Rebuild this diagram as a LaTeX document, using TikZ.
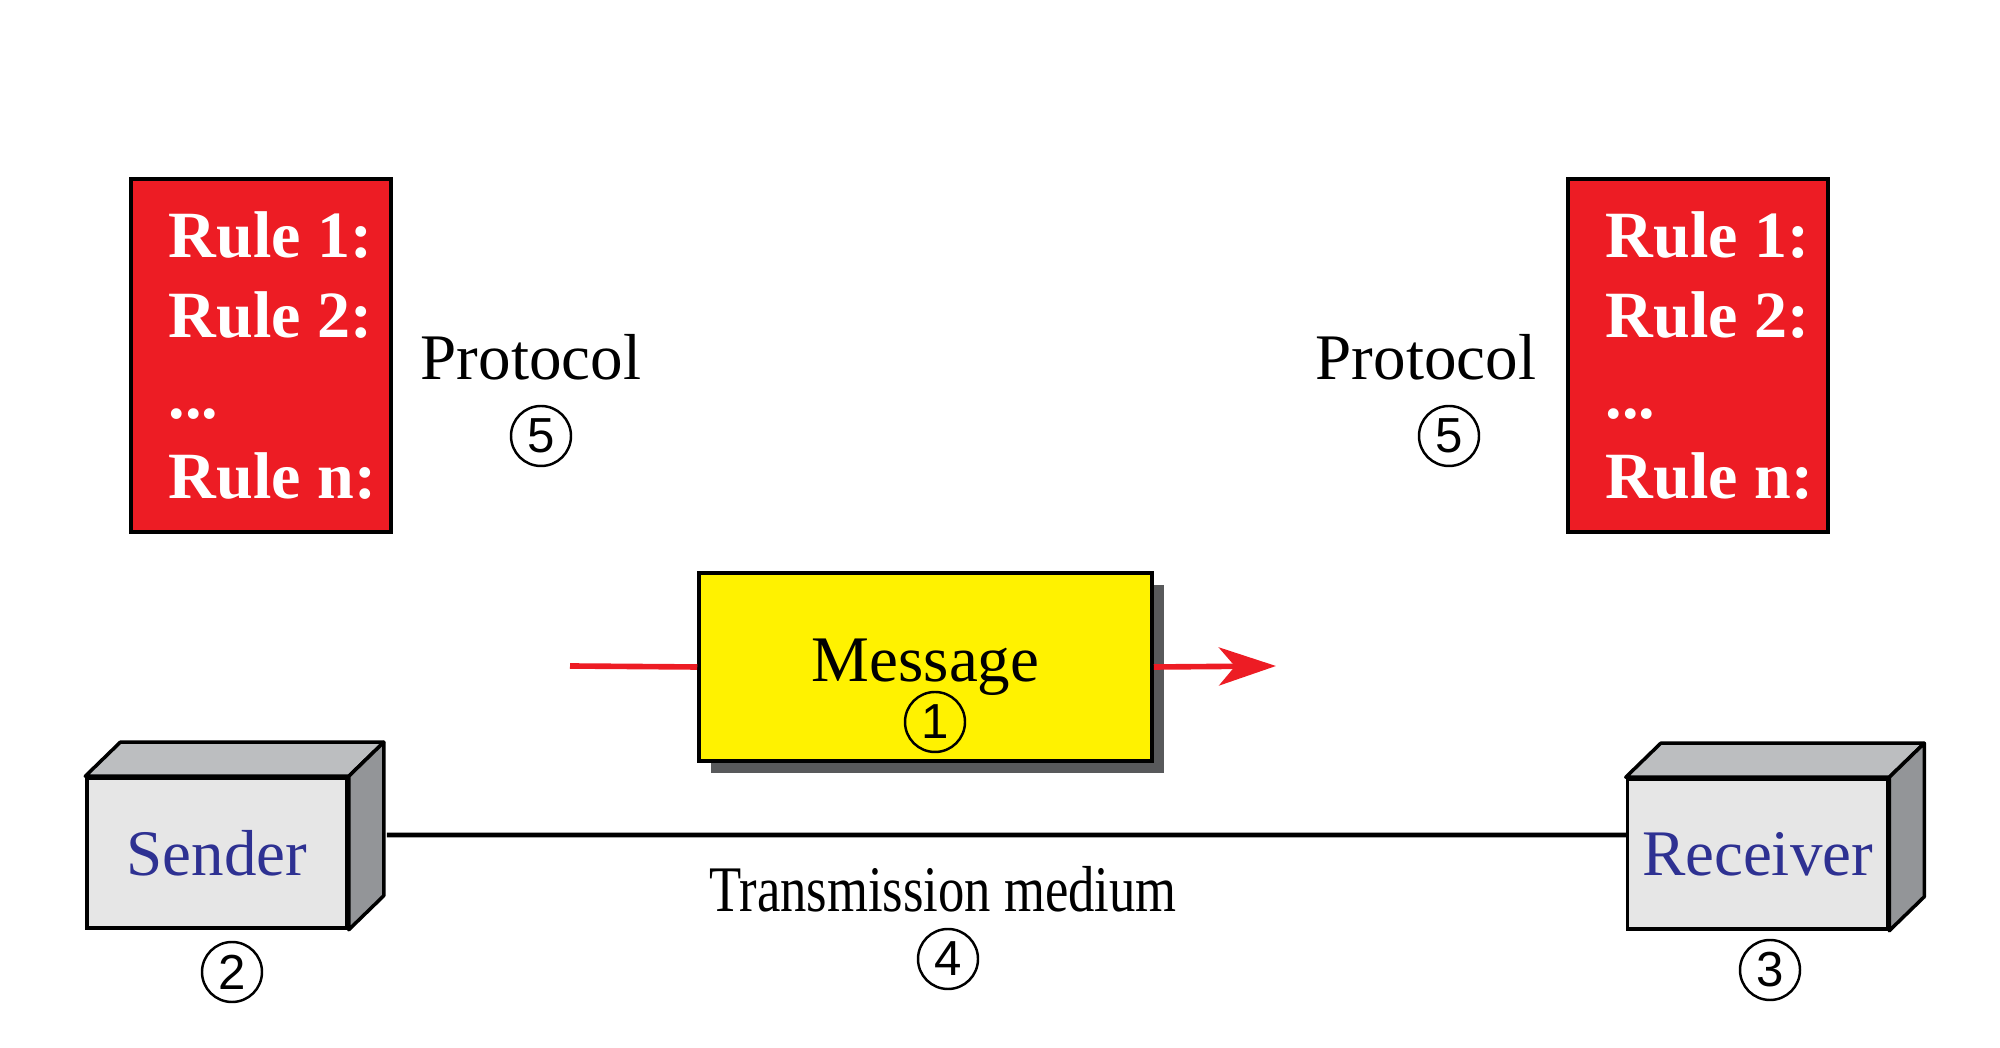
\documentclass[tikz,border=0pt]{standalone}
\usepackage{fontspec}
\setmainfont{Liberation Serif}
\newfontfamily\numfont{Liberation Sans}
\usepackage{xcolor}
\usetikzlibrary{arrows.meta, positioning, shadows}

\definecolor{rulered}{HTML}{ED1C24}
\definecolor{msgyellow}{HTML}{FFF200}
\definecolor{hostblue}{HTML}{2E3192}
\definecolor{hostfront}{HTML}{E6E6E6}
\definecolor{hosttop}{HTML}{BCBEC0}
\definecolor{hostside}{HTML}{939598}
\definecolor{shadowgray}{HTML}{58595B}

\begin{document}
\begin{tikzpicture}[
    rulebox/.style={rectangle, draw, line width=1pt, fill=rulered, minimum width=2.6cm, minimum height=3.53cm},
    ruletext/.style={align=left, text=white, inner sep=0pt, font=\fontsize{18.8}{22.9}\selectfont\bfseries},
    plaintext/.style={inner sep=0pt, font=\fontsize{18.5}{22}\selectfont},
    num/.style={circle, draw, line width=0.7pt, minimum size=0.6cm, inner sep=0pt, font=\numfont\fontsize{14}{14}\selectfont},
    host/.style={rectangle, draw, line width=1pt, fill=hostfront, minimum width=2.6cm, minimum height=1.5cm, text=hostblue, font=\fontsize{18.5}{22}\selectfont},
    topface/.style={draw, line width=1pt, fill=hosttop, line join=round},
    sideface/.style={draw, line width=1pt, fill=hostside, line join=round},
    message/.style={rectangle, draw, line width=1pt, fill=msgyellow, minimum width=4.53cm, minimum height=1.88cm, font=\fontsize{18.5}{22}\selectfont,
        drop shadow={shadow xshift=0.12cm, shadow yshift=-0.12cm, fill=shadowgray, opacity=1}},
    arrow/.style={-{Stealth[length=5.7mm, width=3.8mm, inset=1.6mm]}, line width=1.6pt, rulered},
    medium/.style={line width=1.3pt}
]
\useasboundingbox (0,0) rectangle (20,10.48);

% Protocol rules
\node[rulebox] (rules1) at (2.61,6.925) {};
\node[ruletext, anchor=west] (ruletext1) at ([xshift=0.39cm]rules1.west) {Rule 1:\\Rule 2:\\...\\Rule n:};
\node[plaintext] (proto1) at (5.31,6.91) {Protocol};
\node[num] (num5a) at (5.41,6.12) {5};

\node[rulebox] (rules2) at (16.98,6.925) {};
\node[ruletext, anchor=west] (ruletext2) at ([xshift=0.39cm]rules2.west) {Rule 1:\\Rule 2:\\...\\Rule n:};
\node[plaintext] (proto2) at (14.26,6.91) {Protocol};
\node[num] (num5b) at (14.49,6.12) {5};

% Message
\node[message] (msg) at (9.255,3.81) {Message};
\node[num] (num1) at (9.35,3.26) {1};
\coordinate (msgin) at (5.70,3.82);
\coordinate (msgout) at (12.76,3.82);
\draw[arrow, -] (msgin) -- (msg.west);
\draw[arrow] (msg.east) -- (msgout);

% Sender and receiver
\node[host] (sender) at (2.17,1.95) {Sender};
\draw[topface] (sender.north west) -- ++(0.35,0.34) -- ([shift={(0.35,0.34)}]sender.north east) -- (sender.north east) -- cycle;
\draw[sideface] (sender.north east) -- ++(0.35,0.34) -- ([shift={(0.35,0.34)}]sender.south east) -- (sender.south east) -- cycle;
\node[num] (num2) at (2.32,0.76) {2};

\node[host] (receiver) at (17.575,1.94) {Receiver};
\draw[topface] (receiver.north west) -- ++(0.35,0.34) -- ([shift={(0.35,0.34)}]receiver.north east) -- (receiver.north east) -- cycle;
\draw[sideface] (receiver.north east) -- ++(0.35,0.34) -- ([shift={(0.35,0.34)}]receiver.south east) -- (receiver.south east) -- cycle;
\node[num] (num3) at (17.70,0.78) {3};

% Transmission medium
\draw[medium] ([shift={(0.38,0.18)}]sender.east) -- ([yshift=0.19cm]receiver.west);
\node[plaintext] (mediumtext) at (9.43,1.59) {\scalebox{0.81}[1]{Transmission medium}};
\node[num] (num4) at (9.48,0.89) {4};

\end{tikzpicture}
\end{document}
